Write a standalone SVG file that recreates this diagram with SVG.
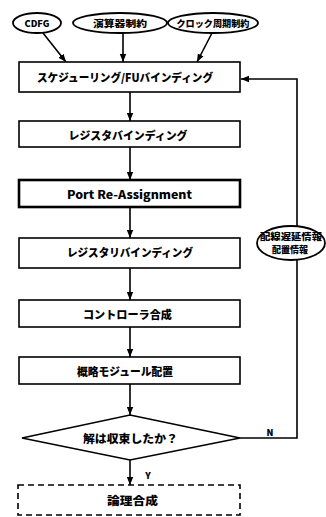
<svg xmlns="http://www.w3.org/2000/svg" width="326" height="517" viewBox="0 0 326 517">
<style>
.bg{fill:#fff}
.box{fill:#fff;stroke:#000;stroke-width:1.6}
.thick{stroke-width:2.6}
.dash{stroke-dasharray:6 4}
.ell{fill:#fff;stroke:#000;stroke-width:1.8}
.ln{fill:none;stroke:#000;stroke-width:1.6}
.t{font-family:"Noto Sans CJK JP","Noto Sans",sans-serif;font-weight:900;font-size:11px;fill:#000;text-anchor:middle;dominant-baseline:central}
.s{font-size:9px}
</style>
<defs>
<marker id="ah" markerWidth="8" markerHeight="8" viewBox="0 0 10 10" refX="10" refY="5" orient="auto" markerUnits="userSpaceOnUse">
<path d="M0,1 L10,5 L0,9 Z" fill="#000"/>
</marker>
</defs>
<rect class="bg" x="0" y="0" width="326" height="517"/>
<g id="connectors">
<line class="ln" x1="43" y1="33" x2="66" y2="62" marker-end="url(#ah)"/>
<line class="ln" x1="123" y1="33" x2="123" y2="62" marker-end="url(#ah)"/>
<line class="ln" x1="212" y1="33" x2="197" y2="62" marker-end="url(#ah)"/>
<line class="ln" x1="130" y1="92" x2="130" y2="121" marker-end="url(#ah)"/>
<line class="ln" x1="130" y1="147" x2="130" y2="180" marker-end="url(#ah)"/>
<line class="ln" x1="130" y1="207" x2="130" y2="238" marker-end="url(#ah)"/>
<line class="ln" x1="130" y1="268" x2="130" y2="300" marker-end="url(#ah)"/>
<line class="ln" x1="130" y1="327" x2="130" y2="357" marker-end="url(#ah)"/>
<line class="ln" x1="130" y1="384" x2="130" y2="415" marker-end="url(#ah)"/>
<line class="ln" x1="130" y1="460" x2="130" y2="485" marker-end="url(#ah)"/>
<polyline class="ln" points="240,438 297,438 297,79 241,79" marker-end="url(#ah)"/>
<text class="t s" x="270" y="432">N</text>
<text class="t s" x="148" y="475">Y</text>
</g>
<g id="cdfg"><ellipse class="ell" cx="37" cy="23" rx="24" ry="10"/><text class="t s" x="37" y="23" textLength="25" lengthAdjust="spacingAndGlyphs">CDFG</text></g>
<g id="opconstraint"><ellipse class="ell" cx="120" cy="23" rx="47" ry="10"/><text class="t s" x="120" y="23" textLength="54" lengthAdjust="spacingAndGlyphs">演算器制約</text></g>
<g id="clockconstraint"><ellipse class="ell" cx="213" cy="23" rx="45" ry="10"/><text class="t s" x="213" y="23" textLength="73" lengthAdjust="spacingAndGlyphs">クロック周期制約</text></g>
<g id="scheduling"><rect class="box" x="19" y="62" width="221" height="30"/><text class="t" x="125" y="77" textLength="176" lengthAdjust="spacingAndGlyphs">スケジューリング/FUバインディング</text></g>
<g id="regbind"><rect class="box" x="19" y="121" width="221" height="26"/><text class="t" x="128" y="135" textLength="119" lengthAdjust="spacingAndGlyphs">レジスタバインディング</text></g>
<g id="portreassign"><rect class="box thick" x="19" y="180" width="221" height="27"/><text class="t" x="129.5" y="194" textLength="125" lengthAdjust="spacingAndGlyphs">Port Re-Assignment</text></g>
<g id="regrebind"><rect class="box" x="19" y="238" width="221" height="30"/><text class="t" x="130" y="252" textLength="126" lengthAdjust="spacingAndGlyphs">レジスタリバインディング</text></g>
<g id="controller"><rect class="box" x="19" y="300" width="221" height="27"/><text class="t" x="127.5" y="313.5" textLength="89" lengthAdjust="spacingAndGlyphs">コントローラ合成</text></g>
<g id="placement"><rect class="box" x="19" y="357" width="221" height="27"/><text class="t" x="125" y="370.5" textLength="96" lengthAdjust="spacingAndGlyphs">概略モジュール配置</text></g>
<g id="converged"><polygon class="box" points="130,415 240,438 130,460 22,438"/><text class="t" x="130.5" y="438" textLength="95" lengthAdjust="spacingAndGlyphs">解は収束したか？</text></g>
<g id="logicsynth"><rect class="box dash" x="18" y="485" width="222" height="30"/><text class="t" x="132.5" y="499.5" textLength="51" lengthAdjust="spacingAndGlyphs">論理合成</text></g>
<g id="feedbackinfo"><ellipse class="ell" cx="291" cy="243" rx="34" ry="17"/><text class="t s" x="291" y="236" textLength="62" lengthAdjust="spacingAndGlyphs">配線遅延情報</text><text class="t s" x="290" y="249" textLength="36" lengthAdjust="spacingAndGlyphs">配置情報</text></g>
</svg>
